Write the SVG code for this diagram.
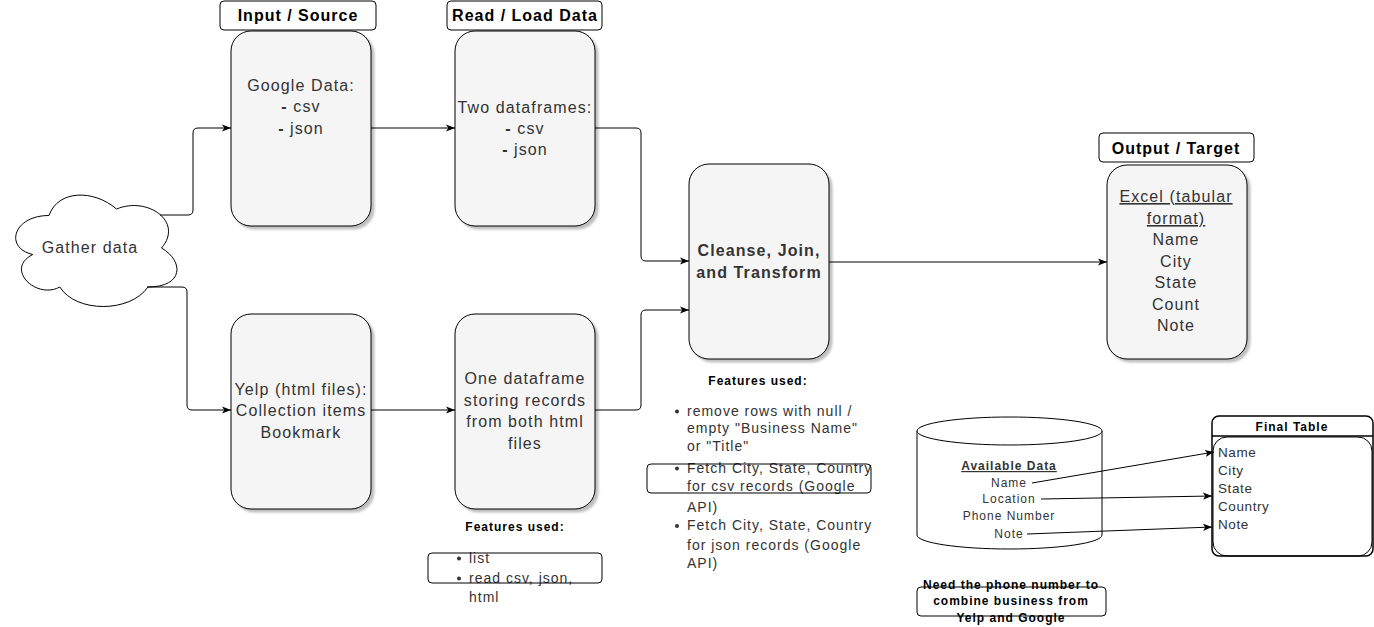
<svg xmlns="http://www.w3.org/2000/svg" width="1374" height="627" viewBox="0 0 1374 627">
<defs>
<style>
text{font-family:"Liberation Sans",Arial,sans-serif;}
.box{fill:#f5f5f5;stroke:#000;stroke-width:1;filter:url(#sh);}
.hdr{fill:#fff;stroke:#000;stroke-width:1;}
.ht{font-size:16px;font-weight:bold;fill:#000;text-anchor:middle;letter-spacing:1px;}
.bt{font-size:16px;fill:#333;text-anchor:middle;letter-spacing:1.1px;}
.ft{font-size:12px;font-weight:bold;fill:#000;text-anchor:middle;letter-spacing:1px;}
.lt{font-size:14px;fill:#333;letter-spacing:1px;}
.st{font-size:12px;fill:#333;text-anchor:middle;letter-spacing:1px;}
.tt{font-size:13.5px;fill:#333;letter-spacing:0.6px;}
.edge{fill:none;stroke:#000;stroke-width:1;marker-end:url(#arr);}
.plain{fill:none;stroke:#000;stroke-width:1;}
.dot{fill:#333;}
</style>
<filter id="sh" x="-10%" y="-10%" width="130%" height="130%">
<feDropShadow dx="3" dy="3" stdDeviation="1.2" flood-color="#000" flood-opacity="0.25"/>
</filter>
<marker id="arr" viewBox="0 0 10 10" refX="10" refY="5" markerWidth="9" markerHeight="9" markerUnits="userSpaceOnUse" orient="auto">
<path d="M0,1 L10,5 L0,9 L2.5,5 Z" fill="#000"/>
</marker>
</defs>
<rect width="1374" height="627" fill="#fff"/>

<g id="gather">
<path d="M 49 215.5 C 13 215.5 4 248 32.8 254.5 C 4 268.8 36.4 300 59.8 287 C 76 313 130 313 148 287 C 184 287 184 261 161.5 248 C 184 222 148 196 116.5 209 C 94 189.5 58 189.5 49 215.5 Z" fill="#fff" stroke="#000" stroke-width="1"/>
<text class="bt" x="90" y="253">Gather data</text>
</g>

<g id="hdr-input">
<rect class="hdr" x="220" y="1" width="156" height="29" rx="4"/>
<text class="ht" x="298" y="21">Input / Source</text>
</g>
<g id="hdr-read">
<rect class="hdr" x="447" y="1" width="155" height="29" rx="4"/>
<text class="ht" x="525" y="21">Read / Load Data</text>
</g>
<g id="hdr-output">
<rect class="hdr" x="1099" y="133" width="155" height="29" rx="4"/>
<text class="ht" x="1176" y="154">Output / Target</text>
</g>

<g id="google">
<rect class="box" x="231" y="31" width="140" height="195" rx="20"/>
<text class="bt" x="301" y="91">Google Data:</text>
<text class="bt" x="301" y="112"><tspan font-weight="bold">-</tspan> csv</text>
<text class="bt" x="301" y="134"><tspan font-weight="bold">-</tspan> json</text>
</g>

<g id="twodf">
<rect class="box" x="455" y="31" width="140" height="195" rx="20"/>
<text class="bt" x="525" y="113">Two dataframes:</text>
<text class="bt" x="525" y="134"><tspan font-weight="bold">-</tspan> csv</text>
<text class="bt" x="525" y="155"><tspan font-weight="bold">-</tspan> json</text>
</g>

<g id="yelp">
<rect class="box" x="231" y="314" width="140" height="195" rx="20"/>
<text class="bt" x="301" y="395">Yelp (html files):</text>
<text class="bt" x="301" y="416">Collection items</text>
<text class="bt" x="301" y="438">Bookmark</text>
</g>

<g id="onedf">
<rect class="box" x="455" y="314" width="140" height="195" rx="20"/>
<text class="bt" x="525" y="384">One dataframe</text>
<text class="bt" x="525" y="406">storing records</text>
<text class="bt" x="525" y="427">from both html</text>
<text class="bt" x="525" y="449">files</text>
</g>

<g id="cleanse">
<rect class="box" x="689" y="164" width="140" height="195" rx="20"/>
<text class="bt" x="759" y="256" font-weight="bold" fill="#000">Cleanse, Join,</text>
<text class="bt" x="759" y="278" font-weight="bold" fill="#000">and Transform</text>
</g>

<g id="output">
<rect class="box" x="1107" y="165" width="140" height="194" rx="20"/>
<text class="bt" x="1176" y="202" text-decoration="underline">Excel (tabular</text>
<text class="bt" x="1176" y="224" text-decoration="underline">format)</text>
<text class="bt" x="1176" y="245">Name</text>
<text class="bt" x="1176" y="267">City</text>
<text class="bt" x="1176" y="288">State</text>
<text class="bt" x="1176" y="310">Count</text>
<text class="bt" x="1176" y="331">Note</text>
</g>

<g id="features-cleanse">
<text class="ft" x="758" y="385">Features used:</text>
<circle class="dot" cx="677" cy="411.5" r="2"/>
<circle class="dot" cx="677" cy="468.5" r="2"/>
<circle class="dot" cx="677" cy="526" r="2"/>
<text class="lt" x="687" y="416">remove rows with null /</text>
<text class="lt" x="687" y="433">empty "Business Name"</text>
<text class="lt" x="687" y="451">or "Title"</text>
<text class="lt" x="687" y="473">Fetch City, State, Country</text>
<text class="lt" x="687" y="491">for csv records (Google</text>
<text class="lt" x="687" y="512">API)</text>
<text class="lt" x="687" y="530">Fetch City, State, Country</text>
<text class="lt" x="687" y="550">for json records (Google</text>
<text class="lt" x="687" y="568">API)</text>
<rect class="plain" x="647" y="464" width="224" height="29" rx="4"/>
</g>

<g id="features-read">
<text class="ft" x="515" y="531">Features used:</text>
<circle class="dot" cx="459" cy="558.5" r="2"/>
<circle class="dot" cx="459" cy="578.5" r="2"/>
<text class="lt" x="469" y="563">list</text>
<text class="lt" x="469" y="583">read csv, json,</text>
<text class="lt" x="469" y="602">html</text>
<rect class="plain" x="428" y="553" width="174" height="30" rx="4"/>
</g>

<g id="available">
<path d="M917,431 V535 A92.5,14 0 0 0 1102,535 V431" fill="#fff" stroke="#000" stroke-width="1"/>
<ellipse cx="1009.5" cy="431" rx="92.5" ry="14" fill="#fff" stroke="#000" stroke-width="1"/>
<text class="st" x="1009" y="470" font-weight="bold" fill="#000" text-decoration="underline">Available Data</text>
<text class="st" x="1009" y="487">Name</text>
<text class="st" x="1009" y="503">Location</text>
<text class="st" x="1009" y="520">Phone Number</text>
<text class="st" x="1009" y="538">Note</text>
</g>

<g id="final-table">
<rect x="1212" y="416" width="161" height="140" rx="7" fill="#fff" stroke="#000" stroke-width="1.5"/>
<line x1="1212" y1="436" x2="1373" y2="436" stroke="#000" stroke-width="1.5"/>
<rect x="1213" y="437" width="159" height="119" rx="14" fill="none" stroke="#000" stroke-width="1"/>
<text class="ft" x="1292" y="431">Final Table</text>
<text class="tt" x="1218" y="457">Name</text>
<text class="tt" x="1218" y="475">City</text>
<text class="tt" x="1218" y="493">State</text>
<text class="tt" x="1218" y="511">Country</text>
<text class="tt" x="1218" y="529">Note</text>
</g>

<g id="phone-note">
<rect class="plain" x="917" y="587" width="189" height="29" rx="4"/>
<text class="ft" x="1011" y="589">Need the phone number to</text>
<text class="ft" x="1011" y="605">combine business from</text>
<text class="ft" x="1011" y="622">Yelp and Google</text>
</g>

<g id="connectors">
<path class="edge" d="M160,215 H188 Q193,215 193,210 V133 Q193,128 198,128 H231"/>
<path class="edge" d="M147,287 H182 Q187,287 187,292 V405 Q187,410 192,410 H231"/>
<path class="edge" d="M371,128 H455"/>
<path class="edge" d="M595,128 H636 Q641,128 641,133 V256 Q641,261 646,261 H689"/>
<path class="edge" d="M371,410 H455"/>
<path class="edge" d="M595,410 H636 Q641,410 641,405 V315 Q641,310 646,310 H689"/>
<path class="edge" d="M829,262 H1107"/>
<path class="edge" d="M1032,483 L1214,452"/>
<path class="edge" d="M1041,499 L1212,496"/>
<path class="edge" d="M1027,534 L1212,527"/>
</g>
</svg>
